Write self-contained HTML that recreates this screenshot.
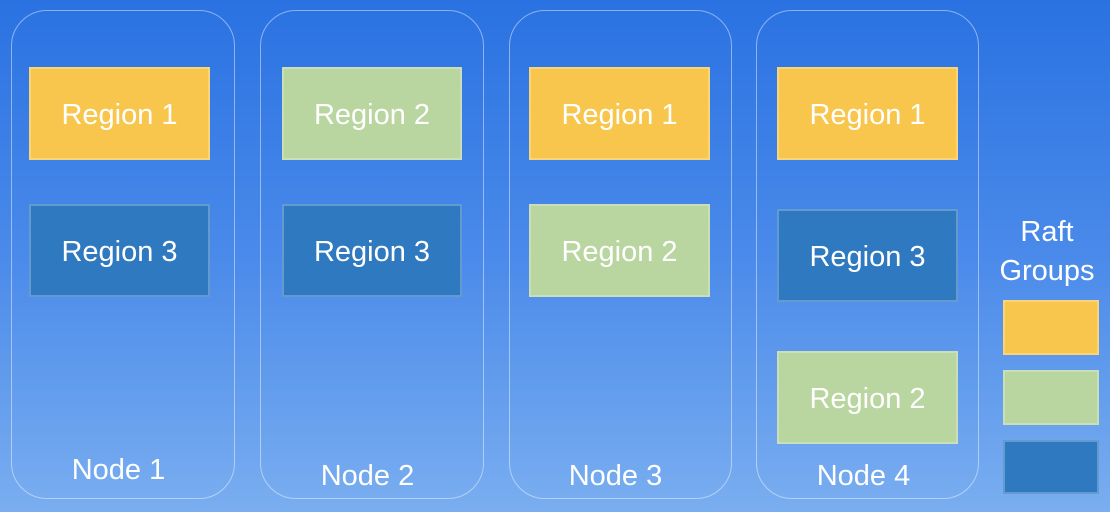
<!DOCTYPE html>
<html><head><meta charset="utf-8"><style>
body{margin:0;width:1110px;height:512px;overflow:hidden;background:linear-gradient(to bottom,#2a72e2 0%,#4a8aea 50%,#7aaef0 100%);font-family:"Liberation Sans","DejaVu Sans",sans-serif;position:relative}
.n{position:absolute;top:10px;height:489px;border:1.5px solid rgba(255,255,255,0.45);border-radius:36px;box-sizing:border-box}
.b{position:absolute;color:#fff;font-size:29px;display:flex;align-items:center;justify-content:center;box-sizing:border-box;border:2px solid rgba(255,255,255,0.25);padding-top:3px}
.y{background:#f8c64c}.g{background:#b9d5a0}.d{background:#2f79c0}
.l{position:absolute;color:#fff;font-size:29px;text-align:center;width:223px}
.t{position:absolute;color:#fff;font-size:29px;text-align:center;width:120px;left:987px;line-height:39px}
</style></head><body>
<div class="n" style="left:11px;width:224px"></div>
<div class="n" style="left:260px;width:224px"></div>
<div class="n" style="left:509px;width:223px"></div>
<div class="n" style="left:756px;width:223px"></div>

<div class="b y" style="left:29px;top:67px;width:181px;height:93px">Region 1</div>
<div class="b d" style="left:29px;top:204px;width:181px;height:93px">Region 3</div>

<div class="b g" style="left:282px;top:67px;width:180px;height:93px">Region 2</div>
<div class="b d" style="left:282px;top:204px;width:180px;height:93px">Region 3</div>

<div class="b y" style="left:529px;top:67px;width:181px;height:93px">Region 1</div>
<div class="b g" style="left:529px;top:204px;width:181px;height:93px">Region 2</div>

<div class="b y" style="left:777px;top:67px;width:181px;height:93px">Region 1</div>
<div class="b d" style="left:777px;top:209px;width:181px;height:93px">Region 3</div>
<div class="b g" style="left:777px;top:351px;width:181px;height:93px">Region 2</div>

<div class="l" style="left:7px;top:454px">Node 1</div>
<div class="l" style="left:256px;top:460px">Node 2</div>
<div class="l" style="left:504px;top:460px">Node 3</div>
<div class="l" style="left:752px;top:460px">Node 4</div>

<div class="t" style="top:213px">Raft<br>Groups</div>
<div class="b y" style="left:1003px;top:300px;width:96px;height:55px"></div>
<div class="b g" style="left:1003px;top:370px;width:96px;height:55px"></div>
<div class="b d" style="left:1003px;top:440px;width:96px;height:54px"></div>
</body></html>
